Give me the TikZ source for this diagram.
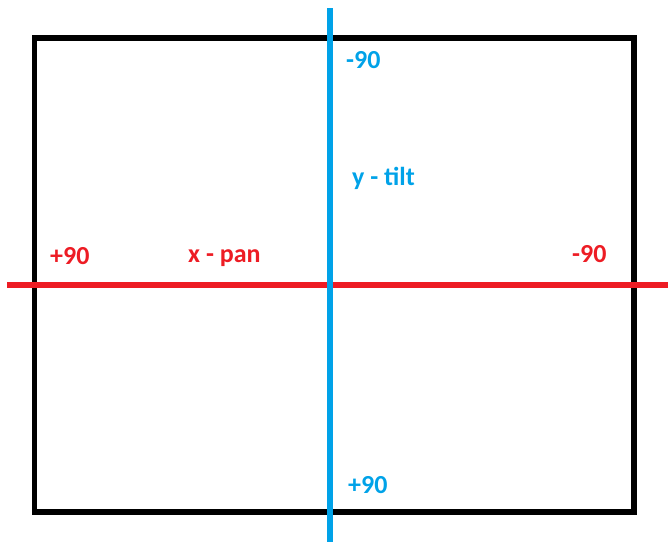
\documentclass[tikz,border=0pt]{standalone}
\usepackage{fontspec}
\setmainfont{Carlito}
\definecolor{axisblue}{HTML}{00A2E8}
\definecolor{axisred}{HTML}{ED1C24}
\begin{document}
\begin{tikzpicture}[x=1pt,y=-1pt,
  lbl/.style={font=\fontsize{26}{30}\selectfont\bfseries, inner sep=0pt, anchor=base west},
  bluelbl/.style={lbl, text=axisblue},
  redlbl/.style={lbl, text=axisred}]
\useasboundingbox (0,0) rectangle (668,542);
\draw[line width=5.5pt] (34.5,38) rectangle (634,512);
\coordinate (xl) at (7,285);
\coordinate (xr) at (668,285);
\coordinate (yt) at (330,8);
\coordinate (yb) at (330,542);
\draw[axisred, line width=6pt] (xl) -- (xr);
\draw[axisblue, line width=6pt] (yt) -- (yb);
\node[bluelbl] (ytop) at (346,68) {-90};
\node[bluelbl] (ylab) at (352,185) {y - tilt};
\node[bluelbl] (ybot) at (348,493) {+90};
\node[redlbl] (xleft) at (50,264) {+90};
\node[redlbl] (xlab) at (188,262) {x - pan};
\node[redlbl] (xright) at (572,262) {-90};
\end{tikzpicture}
\end{document}
